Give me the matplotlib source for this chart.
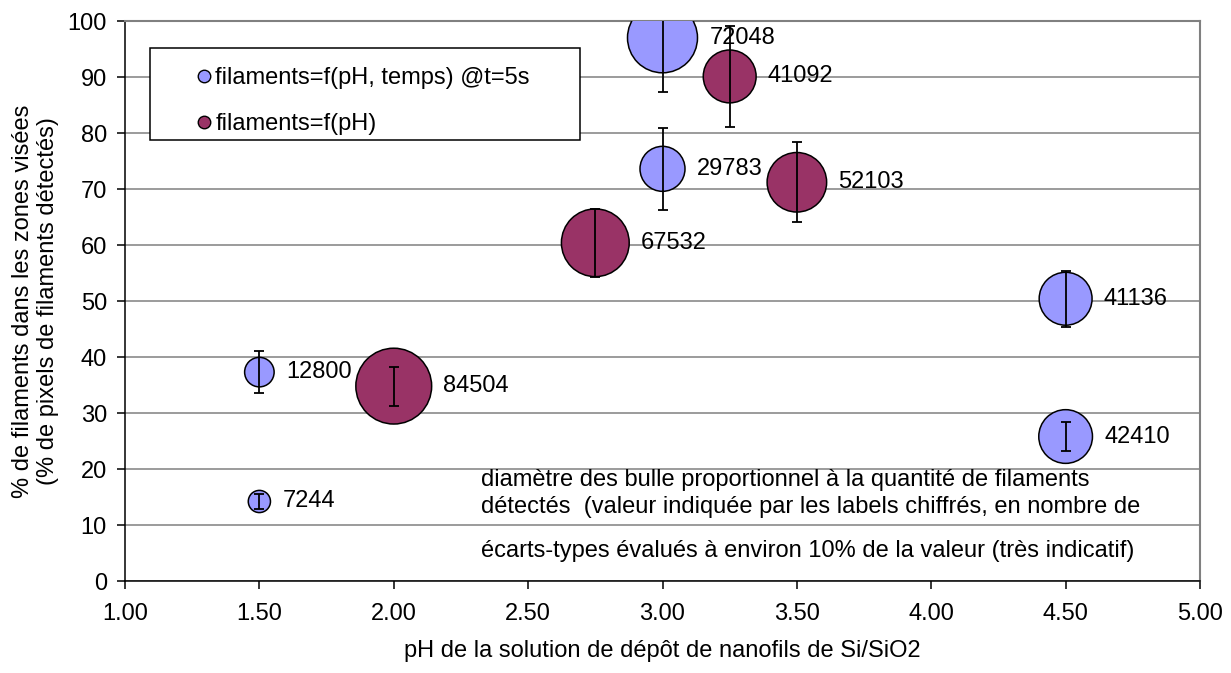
import matplotlib.pyplot as plt
import numpy as np
from matplotlib.lines import Line2D
from matplotlib.patches import Rectangle

plt.rcParams['font.family'] = ['Liberation Sans', 'DejaVu Sans']

# serie 1 : filaments=f(pH, temps) @t=5s
ph_temps = [1.5, 1.5, 3.0, 3.0, 4.5, 4.5]
pct_temps = [14.2, 37.3, 97.0, 73.6, 50.4, 25.8]
count_temps = [7244, 12800, 72048, 29783, 41136, 42410]

# serie 2 : filaments=f(pH)
ph_only = [2.0, 2.75, 3.25, 3.5]
pct_only = [34.8, 60.4, 90.1, 71.2]
count_only = [84504, 67532, 41092, 52103]

blue = '#9999FF'
maroon = '#993366'
fs = 17

fig = plt.figure(figsize=(12.31, 6.73), dpi=100)
ax = fig.add_axes([125/1231, 1-581/673, 1075/1231, 560/673])

# bubble area proportional to value (72048 -> 35 px radius)
k = (2*35*0.72)**2 / 72048

def draw(xs, ys, counts, color):
    sizes = np.array(counts) * k
    ax.scatter(xs, ys, s=sizes, c=color, edgecolors='black', linewidths=1.1, zorder=3)
    err = [0.1*y for y in ys]
    ax.errorbar(xs, ys, yerr=err, fmt='none', ecolor='black', elinewidth=1.3,
                capsize=3.5, capthick=1.3, zorder=5, clip_on=True)
    for x, y, c, s in zip(xs, ys, counts, sizes):
        ax.annotate(str(c), (x, y), xytext=(np.sqrt(s)/2 + 8.5, 0),
                    textcoords='offset points', va='center', ha='left',
                    fontsize=fs, zorder=4)

draw(ph_temps, pct_temps, count_temps, blue)
draw(ph_only, pct_only, count_only, maroon)

ax.set_xlim(1, 5)
ax.set_ylim(0, 100)
ax.set_xticks(np.arange(1, 5.01, 0.5))
ax.set_xticklabels(['%.2f' % v for v in np.arange(1, 5.01, 0.5)])
ax.set_yticks(range(0, 101, 10))
ax.tick_params(labelsize=fs, direction='out', length=6, width=1.1)
ax.tick_params(axis='x', pad=10)
ax.tick_params(axis='y', pad=7)
ax.grid(axis='y', color='#808080', lw=1.1)
ax.set_axisbelow(True)
for sp in ['top', 'right']:
    ax.spines[sp].set_color('#808080')
    ax.spines[sp].set_linewidth(1.5)
for sp in ['left', 'bottom']:
    ax.spines[sp].set_linewidth(1.1)

ax.set_xlabel('pH de la solution de dépôt de nanofils de Si/SiO2', fontsize=fs, labelpad=11)
ax.set_ylabel('% de filaments dans les zones visées\n(% de pixels de filaments détectés)',
              fontsize=fs, labelpad=6)

# legend box
ax.add_patch(Rectangle((25/1075, 1-(140-21)/560), 430/1075, 92/560, transform=ax.transAxes,
                       facecolor='white', edgecolor='black', lw=1.1, zorder=6))
handles = [Line2D([], [], ls='none', marker='o', ms=9, mfc=blue, mec='black', mew=1),
           Line2D([], [], ls='none', marker='o', ms=9, mfc=maroon, mec='black', mew=1)]
leg = ax.legend(handles, ['filaments=f(pH, temps) @t=5s', 'filaments=f(pH)'],
                loc='upper left', bbox_to_anchor=(62/1075, 1-(58-21)/560), frameon=False,
                fontsize=fs, handlelength=0.6, handletextpad=0.2, labelspacing=1.0,
                borderaxespad=0)
leg.set_zorder(7)

ax.text(2.325, 20.0, 'diamètre des bulle proportionnel à la quantité de filaments\n'
        'détectés  (valeur indiquée par les labels chiffrés, en nombre de',
        fontsize=fs, va='top', ha='left', linespacing=1.3, zorder=4)
ax.text(2.325, 5.3, 'écarts-types évalués à environ 10% de la valeur (très indicatif)',
        fontsize=fs, va='center', ha='left', zorder=4)

fig.savefig('out.png', dpi=100)
